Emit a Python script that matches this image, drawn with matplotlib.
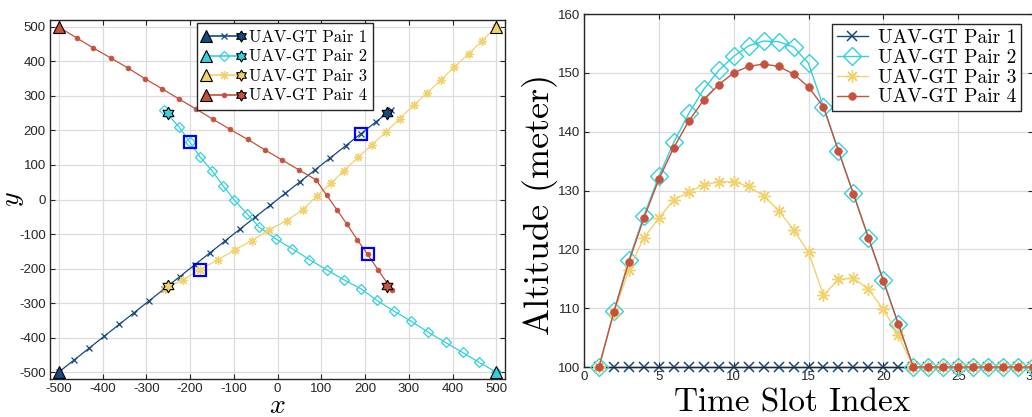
import numpy as np
import matplotlib
matplotlib.use('Agg')
import matplotlib.pyplot as plt
from matplotlib.lines import Line2D
from matplotlib.legend_handler import HandlerBase

plt.rcParams['axes.unicode_minus'] = False
plt.rcParams['mathtext.fontset'] = 'cm'
plt.rcParams['font.family'] = ['Liberation Sans', 'DejaVu Sans']

# ---------------- data ----------------
labels = ['UAV-GT Pair 1', 'UAV-GT Pair 2', 'UAV-GT Pair 3', 'UAV-GT Pair 4']
colors = ['#15497f', '#33d1dc', '#f2d26e', '#c4523c']

# horizontal trajectories (x, y) per time slot
p1_x = [-500, -465.5, -431, -396.5, -362, -327.5, -293, -258.5, -224, -189.5, -155, -120.5,
        -86, -51.5, -17, 17.5, 52, 86.5, 121, 155.5, 190, 224.5, 259]
p1_y = [-500, -465.5, -431, -396.5, -362, -327.5, -293, -258.5, -224, -189.5, -155, -120.5,
        -86, -51.5, -17, 17.5, 52, 86.5, 121, 155.5, 190, 224.5, 259]
p2_x = [500, 461, 423, 384, 345, 306, 267, 227, 191, 151, 113, 73, 34, -4, -42, -70, -99,
        -124, -150, -177, -200, -225, -260]
p2_y = [-500, -472, -443, -414, -385, -353, -324, -292, -259, -232, -204, -174, -143, -114,
        -80, -41, -1, 39, 84, 123, 166, 210, 260]
p3_x = [500, 467, 437, 404, 374, 342, 311, 279, 249, 216, 185, 152, 122, 90, 58, 21, -19,
        -59, -97, -137, -177, -217, -257]
p3_y = [500, 459, 422, 384, 347, 309, 273, 234, 197, 159, 123, 84, 47, 10, -29, -61, -88,
        -119, -146, -175, -203, -233, -259]
p4_x = [-500, -459, -421, -381, -342, -303, -264, -225, -186, -147, -108, -68, -29, 10, 50,
        88, 112, 136, 159, 182, 206, 230, 261]
p4_y = [500, 468, 439, 410, 381, 350, 321, 291, 262, 232, 203, 174, 144, 115, 85, 57, 13,
        -30, -72, -116, -159, -204, -261]
gt_x = [250, -250, -250, 250]
gt_y = [250, 250, -250, -250]
mark_slot = 21  # highlighted time slot (1-based)

# altitude per time slot
t = [1, 2, 3, 4, 5, 6, 7, 8, 9, 10, 11, 12, 13, 14, 15, 16, 17, 18, 19, 20, 21, 22, 23, 24,
     25, 26, 27, 28, 29, 30]
alt1 = [100, 100, 100, 100, 100, 100, 100, 100, 100, 100, 100, 100, 100, 100, 100, 100, 100,
        100, 100, 100, 100, 100, 100, 100, 100, 100, 100, 100, 100, 100]
alt2 = [100, 109.5, 118.2, 125.7, 132.4, 138.2, 143.1, 147.2, 150.4, 152.8, 154.6, 155.4,
        155.3, 154.4, 151.6, 144.2, 136.8, 129.5, 122.0, 114.8, 107.3, 100, 100, 100, 100,
        100, 100, 100, 100, 100]
alt3 = [100, 109.2, 116.5, 122.0, 125.3, 128.4, 129.7, 131.0, 131.5, 131.5, 130.7, 129.1,
        126.6, 123.3, 119.5, 112.2, 114.9, 115.1, 113.2, 109.8, 105.4, 100, 100, 100, 100,
        100, 100, 100, 100, 100]
alt4 = [100, 109.4, 117.9, 125.3, 131.9, 137.3, 141.8, 145.4, 148.0, 150.0, 151.1, 151.5,
        151.1, 149.8, 147.6, 144.2, 136.7, 129.4, 122.0, 114.6, 107.3, 100, 100, 100, 100,
        100, 100, 100, 100, 100]

# ---------------- styles ----------------
ast = (8, 2, 0)
ang = np.deg2rad(90 + 30 * np.arange(13))
rad = np.where(np.arange(13) % 2 == 0, 1.0, 0.58)
hexagram = list(zip(rad * np.cos(ang), rad * np.sin(ang)))

left_mk = [dict(marker='x', ms=4.5, mfc=colors[0], mew=0.9),
           dict(marker='D', ms=5, mfc='none', mew=0.9),
           dict(marker=ast, ms=6.5, mfc=colors[2], mew=0.9),
           dict(marker='o', ms=3.5, mfc=colors[3], mew=0.5)]
right_mk = [dict(marker='x', ms=7, mfc=colors[0], mew=1.1),
            dict(marker='D', ms=9, mfc='none', mew=1.0),
            dict(marker=ast, ms=9, mfc=colors[2], mew=1.0),
            dict(marker='o', ms=5.5, mfc=colors[3], mew=0.5)]

txtc = '#262626'
serif = 'cmr10'


class TripleHandler(HandlerBase):
    def create_artists(self, legend, orig_handle, xdescent, ydescent, width, height,
                       fontsize, trans):
        c = orig_handle.get_color()
        y = (height - ydescent) / 2.0
        x0 = -xdescent + 2
        x1 = width - xdescent - 2
        ln = Line2D([x0, x1], [y, y], color=c, lw=1.2)
        mid = Line2D([(x0 + x1) / 2], [y], marker=orig_handle.get_marker(),
                     ms=orig_handle.get_markersize(), mfc=orig_handle.get_markerfacecolor(),
                     mec=c, mew=orig_handle.get_markeredgewidth(), ls='none')
        tri = Line2D([x0], [y], marker='^', ms=8, mfc=c, mec='k', mew=0.8, ls='none')
        hx = Line2D([x1], [y], marker=hexagram, ms=8, mfc=c, mec='k', mew=0.8, ls='none')
        arts = [ln, mid, tri, hx]
        for a in arts:
            a.set_transform(trans)
        return arts


def style_axes(ax):
    ax.grid(True, color='#dcdcdc', lw=0.9, zorder=0)
    ax.set_axisbelow(True)
    for s in ax.spines.values():
        s.set_color(txtc)
        s.set_linewidth(1.0)
    ax.tick_params(direction='in', length=3.5, width=0.8, colors=txtc, labelsize=9.5,
                   top=True, right=True, pad=3)


fig = plt.figure(figsize=(10.32, 4.17), dpi=100)

# ---------------- left: trajectories ----------------
ax1 = fig.add_axes([0.04845, 0.0911, 0.4409, 0.8609])
trajs = [(p1_x, p1_y), (p2_x, p2_y), (p3_x, p3_y), (p4_x, p4_y)]
handles = []
for i, (xs, ys) in enumerate(trajs):
    c = colors[i]
    ax1.plot(xs, ys, color=c, lw=0.9, mec=c, zorder=2, **left_mk[i])
    ax1.plot(xs[0], ys[0], marker='^', ms=9, mfc=c, mec='k', mew=0.8, ls='none', zorder=5)
    ax1.plot(gt_x[i], gt_y[i], marker=hexagram, ms=9, mfc=c, mec='k', mew=0.8, ls='none',
             zorder=5)
    ax1.plot(xs[mark_slot - 1], ys[mark_slot - 1], marker='s', ms=8.5, mfc='none',
             mec='#0000ff', mew=1.6, ls='none', zorder=6)
    handles.append(Line2D([], [], color=c, mec=c, **left_mk[i]))

ax1.set_xlim(-520, 520)
ax1.set_ylim(-520, 520)
ax1.set_xticks(np.arange(-500, 501, 100))
ax1.set_yticks(np.arange(-500, 501, 100))
style_axes(ax1)
ax1.set_xlabel('$x$', fontsize=20)
ax1.xaxis.set_label_coords(0.5, -0.038)
ax1.set_ylabel('$y$', fontsize=20)
ax1.yaxis.set_label_coords(-0.052, 0.5)
leg1 = ax1.legend(handles, labels, handler_map={Line2D: TripleHandler()},
                  loc='upper left', bbox_to_anchor=(197 / 1032, 1 - 23 / 417),
                  bbox_transform=fig.transFigure, prop={'family': serif, 'size': 12},
                  frameon=True, fancybox=False, edgecolor=txtc, framealpha=1,
                  handlelength=2.4, handletextpad=0.3, labelspacing=0.25, borderpad=0.4,
                  borderaxespad=0)
leg1.get_frame().set_linewidth(1.0)

# ---------------- right: altitude ----------------
ax2 = fig.add_axes([0.5659, 0.1199, 0.4351, 0.8465])
alts = [alt1, alt2, alt3, alt4]
for i, a in enumerate(alts):
    ax2.plot(t, a, color=colors[i], lw=1.0, mec=colors[i], label=labels[i], zorder=2 + i,
             clip_on=False, **right_mk[i])
ax2.set_xlim(0, 30)
ax2.set_ylim(100, 160)
ax2.set_xticks(np.arange(0, 31, 5))
ax2.set_yticks(np.arange(100, 161, 10))
style_axes(ax2)
ax2.set_xlabel('Time Slot Index', fontfamily=serif, fontsize=24)
ax2.xaxis.set_label_coords(0.463, -0.06)
ax2.set_ylabel('Altitude (meter)', fontfamily=serif, fontsize=26)
ax2.yaxis.set_label_coords(-0.057, 0.46)
leg2 = ax2.legend(loc='upper left', bbox_to_anchor=(832 / 1032, 1 - 24 / 417),
                  bbox_transform=fig.transFigure, prop={'family': serif, 'size': 14},
                  frameon=True, fancybox=False, edgecolor=txtc, framealpha=1,
                  handlelength=1.6, handletextpad=0.5, labelspacing=0.1, borderpad=0.25,
                  borderaxespad=0)
leg2.get_frame().set_linewidth(1.0)

fig.savefig('out.png', dpi=100)
